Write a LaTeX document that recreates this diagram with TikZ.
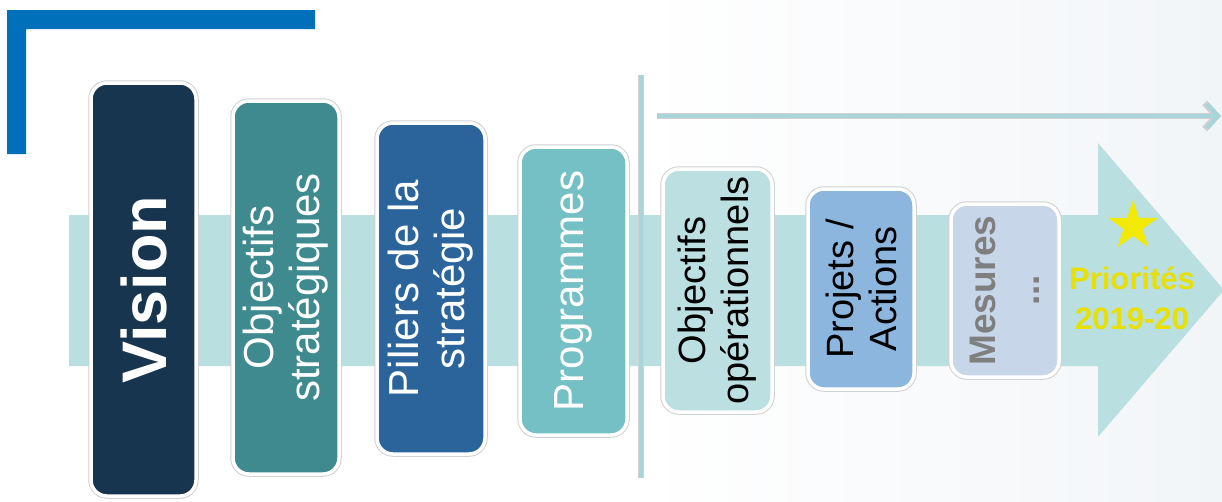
\documentclass[tikz,border=0pt]{standalone}
\usepackage{fontspec}
\setmainfont{Liberation Sans}
\usepackage{tikz}
\usetikzlibrary{shapes.geometric,arrows.meta}

\definecolor{bracketblue}{HTML}{0070BA}
\definecolor{bandcyan}{HTML}{B9DFE0}
\definecolor{linecyan}{HTML}{A8D5D8}
\definecolor{bgtint}{HTML}{F2F5F8}
\definecolor{visionnavy}{HTML}{18354F}
\definecolor{objteal}{HTML}{3E8A8F}
\definecolor{pilierblue}{HTML}{2A649A}
\definecolor{progcyan}{HTML}{74C0C4}
\definecolor{opcyan}{HTML}{BCE0E2}
\definecolor{projblue}{HTML}{8DB6DF}
\definecolor{mesgray}{HTML}{C7D6E9}
\definecolor{mestext}{HTML}{7F7F7F}
\definecolor{staryellow}{HTML}{F2EA00}
\definecolor{prioyellow}{HTML}{E8E000}

\begin{document}
\begin{tikzpicture}[x=1pt,y=-1pt]
	\tikzset{box/.style={rectangle, rounded corners=16pt, rotate=90, draw=white, line width=3.5pt, preaction={draw=black!18, line width=5.5pt}, align=center, inner sep=0pt}}
	\tikzset{txtbig/.style={font=\fontsize{42}{46}\selectfont}, txtmid/.style={font=\fontsize{38}{43}\selectfont}}

	\useasboundingbox (0,0) rectangle (1222,501);
	\shade[left color=white, right color=bgtint] (640,0) rectangle (1222,501);

	%---BRACKET & BAND---
	\fill[bracketblue] (7,10) -- (315,10) -- (315,29) -- (26,29) -- (26,154) -- (7,154) -- cycle;
	\fill[bandcyan] (69,215) -- (1098,215) -- (1098,143) -- (1224,290) -- (1098,437) -- (1098,366) -- (69,366) -- cycle;

	%---NODES---
	\node[box, fill=visionnavy, text=white, minimum width=413pt, minimum height=105pt, font=\bfseries\fontsize{63}{66}\selectfont] (vision) at (143.5,289.5) {Vision};
	\node[box, fill=objteal, text=white, minimum width=373pt, minimum height=106pt, txtbig] (objstrat) at (286,287.5) {Objectifs\\stratégiques};
	\node[box, fill=pilierblue, text=white, minimum width=331pt, minimum height=108pt, txtbig] (piliers) at (431,288.5) {Piliers de la\\stratégie};
	\node[box, fill=progcyan, text=white, minimum width=288pt, minimum height=107pt, txtbig] (prog) at (573.5,291) {Programmes};
	\node[box, fill=opcyan, text=black, minimum width=243pt, minimum height=109pt, txtmid] (objop) at (717.5,290.5) {Objectifs\\opérationnels};
	\node[box, fill=projblue, text=black, minimum width=200pt, minimum height=106pt, txtmid] (projets) at (861,289) {Projets /\\Actions};
	\node[box, fill=mesgray, text=mestext, minimum width=173pt, minimum height=108pt, font=\bfseries\fontsize{37}{44}\selectfont] (mesures) at (1005,290.5) {Mesures\\...};

	\node[star, star points=5, star point ratio=2.6, fill=staryellow, minimum size=52pt, inner sep=0pt] (star) at (1133,226) {};
	\node[text=prioyellow, align=center, font=\bfseries\fontsize{31}{40}\selectfont] (prio) at (1132,298) {Priorités\\2019-20};

	\coordinate (sepTop) at (641,75);
	\coordinate (sepBot) at (641,478);
	\coordinate (arrStart) at (657,116);
	\coordinate (arrEnd) at (1221,116);

	%---EDGES---
	\draw[black!18, line width=5.5pt] (sepTop) -- (sepBot);
	\draw[linecyan, line width=3.5pt] (sepTop) -- (sepBot);

	\draw[black!18, line width=6.5pt, -{Straight Barb[length=12pt,width=26pt]}] (arrStart) -- (arrEnd);
	\draw[linecyan, line width=4.5pt, -{Straight Barb[length=11pt,width=24pt]}] (arrStart) -- (arrEnd);
\end{tikzpicture}
\end{document}
